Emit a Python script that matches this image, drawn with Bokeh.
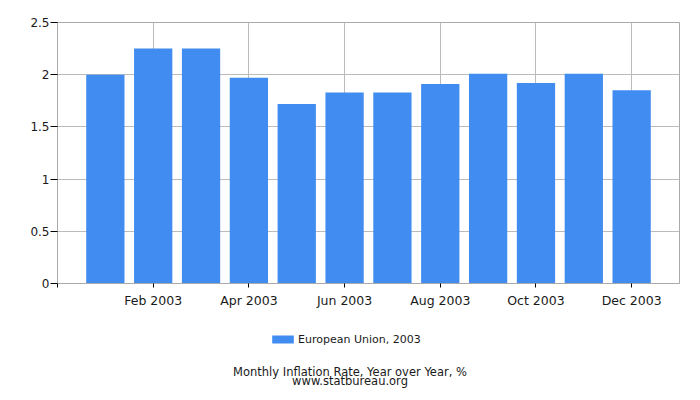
from bokeh.plotting import figure
from bokeh.layouts import column
from bokeh.models import (ColumnDataSource, Range1d, FixedTicker, Legend, LegendItem, Label)
from bokeh.embed import file_html
from bokeh.resources import INLINE

months = ["Jan 2003", "Feb 2003", "Mar 2003", "Apr 2003", "May 2003", "Jun 2003",
          "Jul 2003", "Aug 2003", "Sep 2003", "Oct 2003", "Nov 2003", "Dec 2003"]
values = [2.00, 2.25, 2.25, 1.97, 1.72, 1.83, 1.83, 1.91, 2.01, 1.92, 2.01, 1.85]
x_tick_pos = [-1, 1, 3, 5, 7, 9, 11]
x_tick_labels = ["", "Feb 2003", "Apr 2003", "Jun 2003", "Aug 2003", "Oct 2003", "Dec 2003"]
y_ticks = [0, 0.5, 1, 1.5, 2, 2.5]
y_tick_labels = ["0", "0.5", "1", "1.5", "2", "2.5"]
series_name = "European Union, 2003"
title_lines = ["Monthly Inflation Rate, Year over Year, %", "www.statbureau.org"]

FONT = "DejaVu Sans"
TXT = "#1a1a1a"
BAR = "#418cf0"

src = ColumnDataSource(dict(x=list(range(len(months))), top=values, month=months))

p = figure(width=692, height=310, output_backend="svg", toolbar_location=None,
           x_range=Range1d(-1, 12), y_range=Range1d(0, 2.5),
           min_border_left=57, min_border_right=13, min_border_top=22, min_border_bottom=27)
p.outline_line_color = "#aaaaaa"
p.border_fill_color = "white"

r = p.vbar(x="x", top="top", width=0.8, bottom=0, source=src,
           fill_color=BAR, line_color=None)

p.xaxis.ticker = FixedTicker(ticks=x_tick_pos)
p.xaxis.major_label_overrides = {t: l for t, l in zip(x_tick_pos, x_tick_labels)}
p.yaxis.ticker = FixedTicker(ticks=y_ticks)
p.yaxis.major_label_overrides = {t: l for t, l in zip(y_ticks, y_tick_labels)}

for ax in (p.xaxis, p.yaxis):
    ax.axis_line_color = "#aaaaaa"
    ax.major_tick_line_color = "black"
    ax.minor_tick_line_color = None
    ax.major_tick_in = 0
    ax.major_label_text_font = FONT
    ax.major_label_text_color = TXT
p.xaxis.major_tick_out = 4
p.xaxis.major_label_standoff = 5
p.xaxis.major_label_text_font_size = "12.5px"
p.yaxis.major_tick_out = 7
p.yaxis.major_label_standoff = 1
p.yaxis.major_label_text_font_size = "12px"

p.xgrid.grid_line_color = "#bbbbbb"
p.ygrid.grid_line_color = "#bbbbbb"

# footer area: legend and captions (its range keeps the bars out of view)
p2 = figure(width=692, height=82, output_backend="svg", toolbar_location=None,
            x_range=Range1d(1000, 1001), y_range=Range1d(1000, 1001),
            min_border_left=0, min_border_right=0, min_border_top=0, min_border_bottom=0)
p2.axis.visible = False
p2.grid.visible = False
p2.outline_line_color = None
p2.border_fill_color = "white"
r2 = p2.vbar(x="x", top="top", width=0.8, bottom=0, source=src,
             fill_color=BAR, line_color=None)

legend = Legend(items=[LegendItem(label=series_name, renderers=[r2])],
                location=(212, 46.5), orientation="horizontal",
                glyph_width=27, glyph_height=10, label_standoff=2,
                padding=0, margin=0, spacing=0, label_height=10,
                border_line_color=None, background_fill_alpha=0,
                label_text_font=FONT, label_text_font_size="11px",
                label_text_color=TXT)
p2.add_layout(legend)

for txt, yy in zip(title_lines, [21, 11.5]):
    p2.add_layout(Label(x=292.5, y=yy, x_units="screen", y_units="screen", text=txt,
                        text_align="center", text_baseline="alphabetic",
                        text_font=FONT, text_font_size="11.5px", text_color=TXT))

layout = column(p, p2, spacing=0)
open("out.html", "w").write(file_html(layout, INLINE))
